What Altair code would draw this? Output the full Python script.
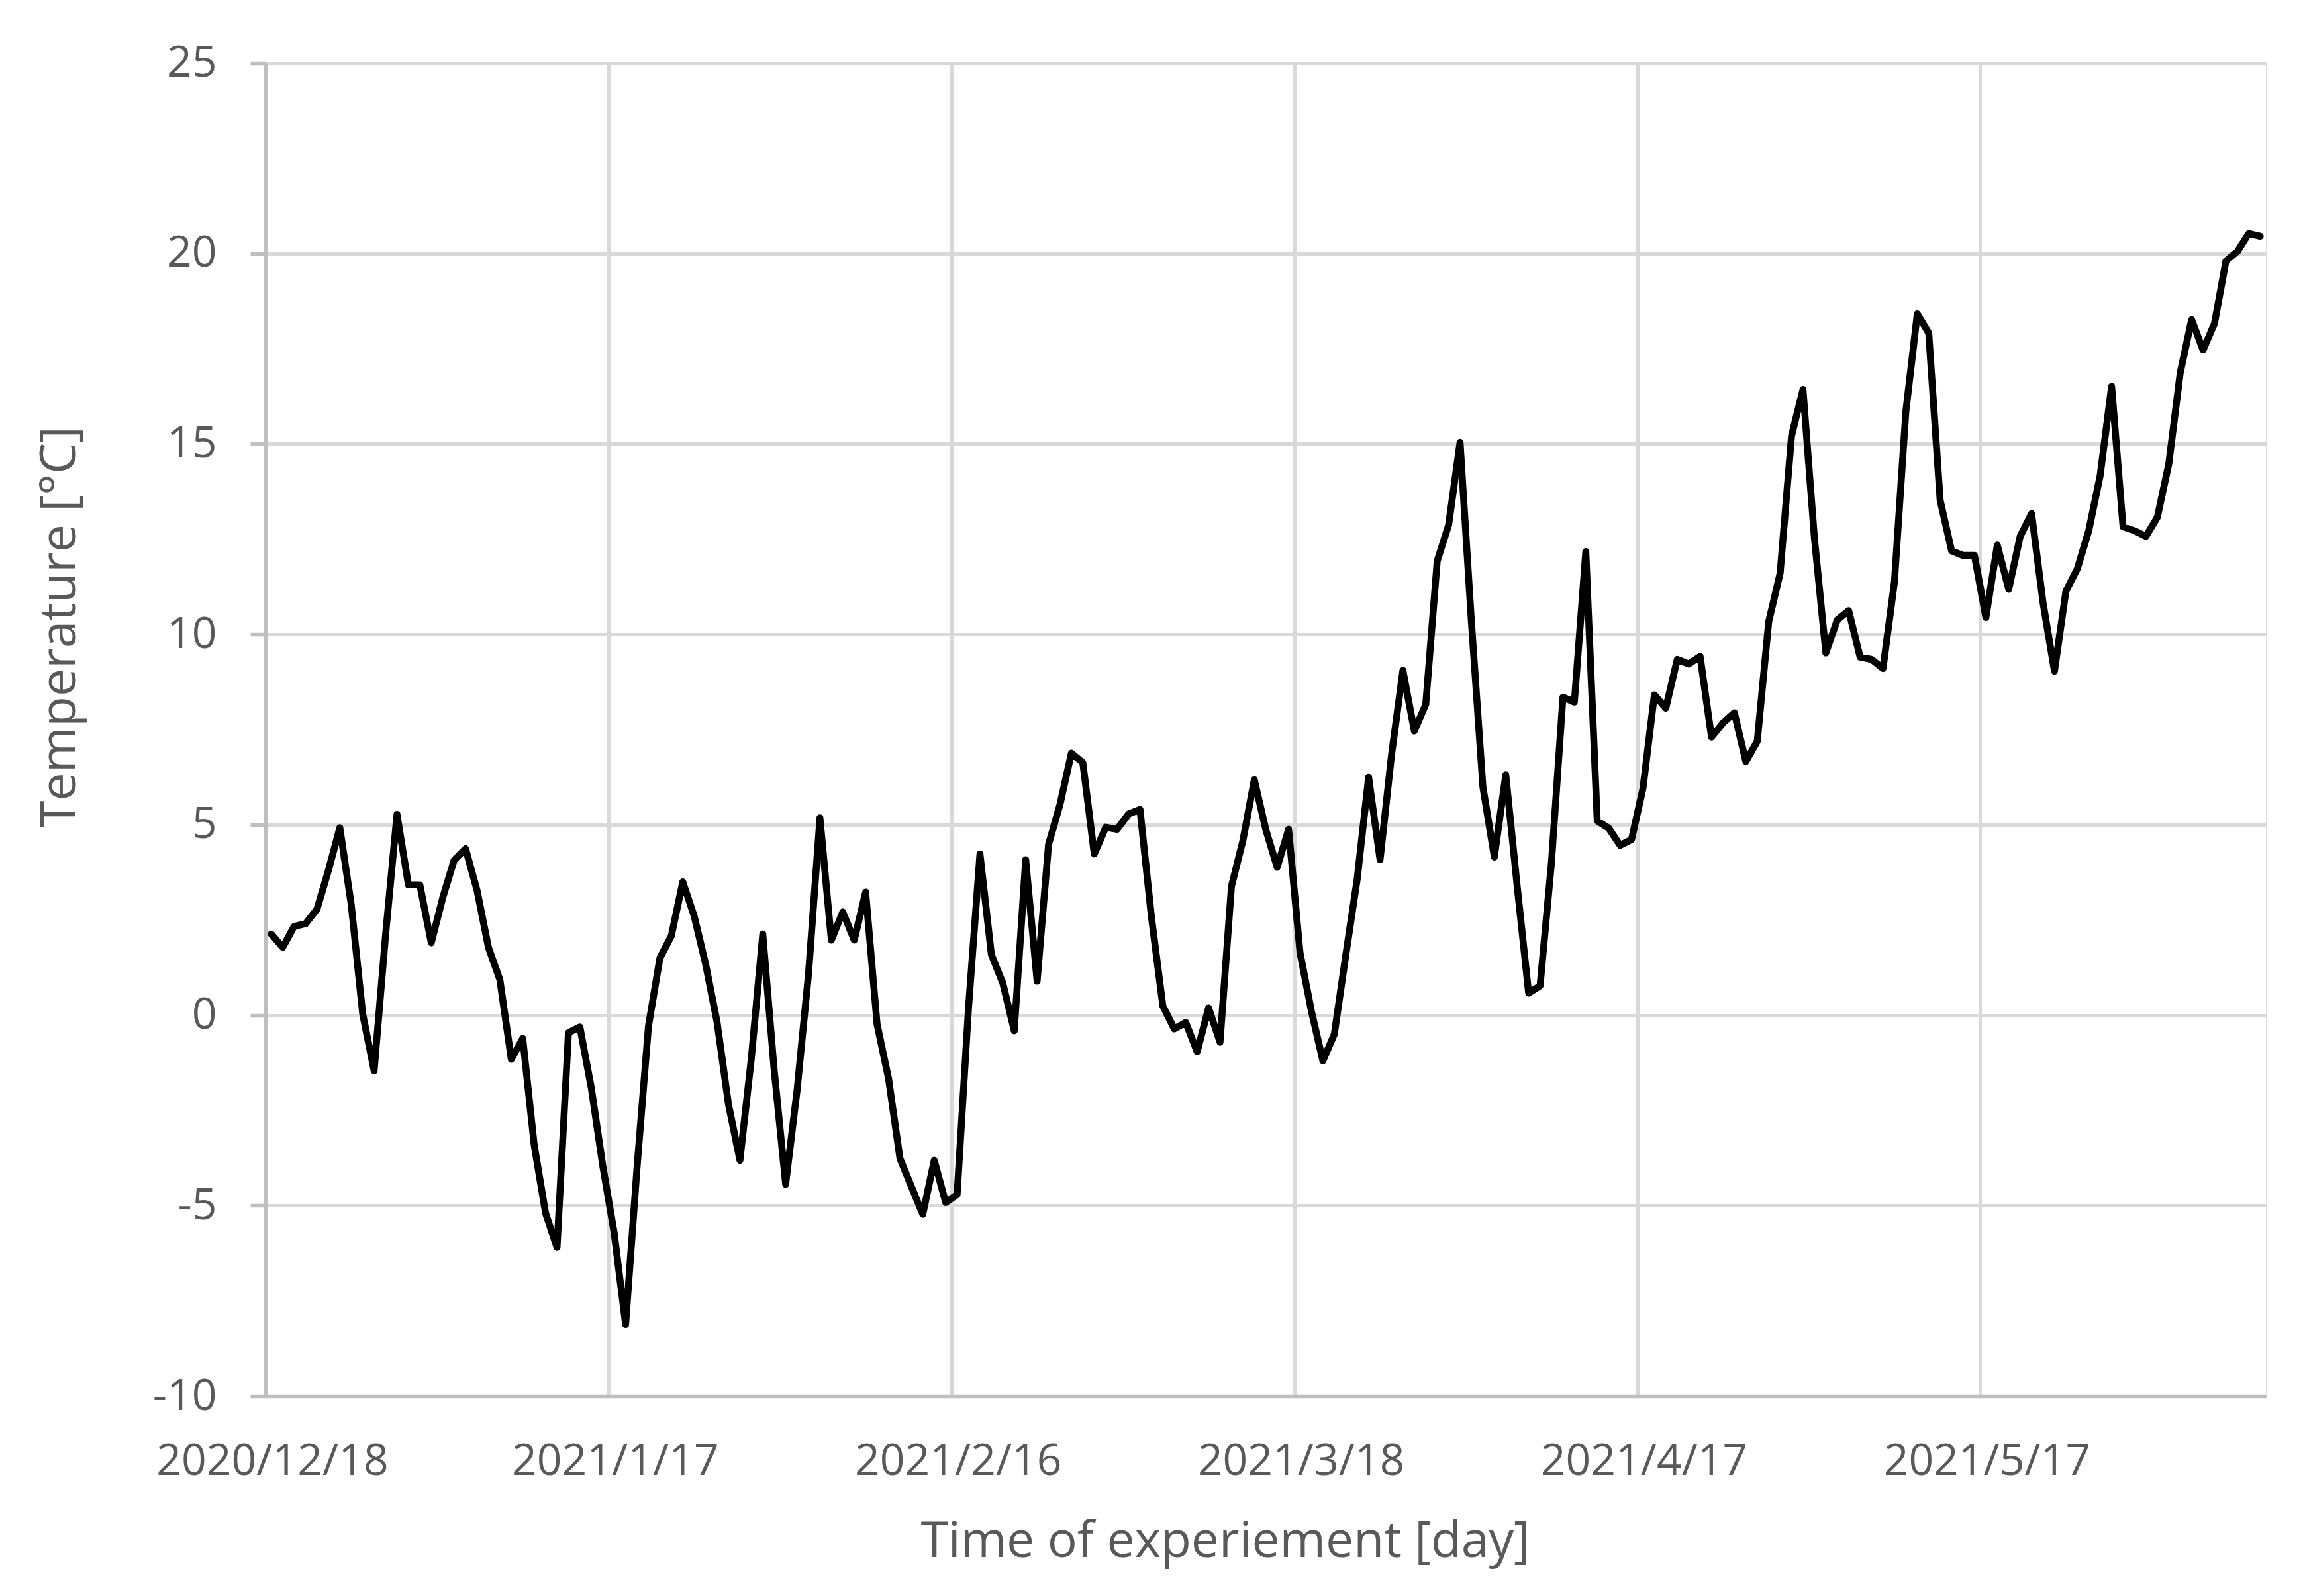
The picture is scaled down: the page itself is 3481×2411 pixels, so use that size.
import altair as alt
import pandas as pd

# Daily mean temperature (°C), one value per day starting 2020/12/18
temps = [
    2.13, 1.78, 2.33, 2.40, 2.78, 3.80, 4.92, 2.90, 0.03, -1.46,
    2.10, 5.27, 3.42, 3.42, 1.90, 3.08, 4.07, 4.37, 3.28, 1.78,
    0.93, -1.16, -0.61, -3.40, -5.20, -6.10, -0.46, -0.31, -1.91, -3.95,
    -5.72, -8.12, -4.00, -0.29, 1.50, 2.08, 3.50, 2.60, 1.34, -0.18,
    -2.34, -3.81, -1.13, 2.13, -1.45, -4.44, -1.97, 1.08, 5.18, 1.97,
    2.71, 1.97, 3.23, -0.24, -1.66, -3.76, -4.50, -5.23, -3.81, -4.92,
    -4.71, 0.20, 4.23, 1.59, 0.84, -0.41, 4.08, 0.89, 4.48, 5.53,
    6.88, 6.63, 4.23, 4.93, 4.88, 5.28, 5.40, 2.58, 0.24, -0.36,
    -0.19, -0.96, 0.19, -0.71, 3.38, 4.58, 6.18, 4.88, 3.88, 4.88,
    1.64, 0.10, -1.20, -0.50, 1.57, 3.57, 6.25, 4.08, 6.82, 9.05,
    7.46, 8.16, 11.92, 12.87, 15.04, 10.30, 5.99, 4.15, 6.31, 3.38,
    0.58, 0.77, 4.02, 8.35, 8.22, 12.17, 5.10, 4.91, 4.46, 4.61,
    5.95, 8.41, 8.06, 9.34, 9.22, 9.42, 7.30, 7.67, 7.94, 6.66,
    7.19, 10.33, 11.60, 15.21, 16.43, 12.53, 9.51, 10.38, 10.62, 9.40,
    9.34, 9.10, 11.37, 15.85, 18.41, 17.91, 13.52, 12.19, 12.07, 12.07,
    10.44, 12.34, 11.18, 12.57, 13.17, 10.83, 9.03, 11.13, 11.72, 12.72,
    14.17, 16.51, 12.82, 12.72, 12.57, 13.07, 14.47, 16.86, 18.26, 17.46,
    18.16, 19.80, 20.05, 20.52, 20.45,
]

tick_days = [0, 30, 60, 90, 120, 150]
tick_labels = ["2020/12/18", "2021/1/17", "2021/2/16", "2021/3/18", "2021/4/17", "2021/5/17"]
y_ticks = [-10, -5, 0, 5, 10, 15, 20, 25]
n_days = len(temps)

# each day's value is drawn in the middle of its day slot
df = pd.DataFrame({"day": [i + 0.5 for i in range(n_days)], "temp": temps})

labels_js = "[" + ",".join(f"'{s}'" for s in tick_labels) + "]"
days_js = "[" + ",".join(str(d) for d in tick_days) + "]"
x_label_expr = f"{labels_js}[indexof({days_js}, datum.value)]"

FONT = "Open Sans"
TXT = "#595959"

line = alt.Chart(df).mark_line(
    color="black", strokeWidth=10.5, strokeJoin="round", strokeCap="round"
).encode(
    x=alt.X(
        "day:Q",
        scale=alt.Scale(domain=[0, n_days], nice=False, zero=False),
        axis=alt.Axis(
            values=tick_days,
            labelExpr=x_label_expr,
            grid=True, gridColor="#d9d9d9", gridWidth=5,
            ticks=False,
            domainColor="#bfbfbf", domainWidth=5.5,
            labelPadding=66, labelFlush=False, labelOffset=10, labelLimit=0,
            labelFont=FONT, labelFontSize=66, labelColor=TXT,
            title="Time of experiement [day]",
            titleFont=FONT, titleFontSize=75, titleFontWeight="normal", titleColor=TXT,
            titleX=1449, titleY=242, titleBaseline="alphabetic", titleAlign="center",
        ),
    ),
    y=alt.Y(
        "temp:Q",
        scale=alt.Scale(domain=[-10, 25], nice=False, zero=False),
        axis=alt.Axis(
            values=y_ticks,
            labelExpr="'' + datum.value",
            grid=True, gridColor="#d9d9d9", gridWidth=5,
            ticks=True, tickSize=23, tickColor="#bfbfbf", tickWidth=5.5,
            domainColor="#bfbfbf", domainWidth=5.5,
            labelPadding=51, labelLimit=0,
            labelFont=FONT, labelFontSize=66, labelColor=TXT,
            title="Temperature [°C]",
            titleFont=FONT, titleFontSize=75, titleFontWeight="normal", titleColor=TXT,
            titleAngle=270, titleX=-288, titleY=852, titleBaseline="alphabetic", titleAlign="center",
        ),
    ),
)

chart = line.properties(
    width=3021,
    height=2014,
    autosize=alt.AutoSizeParams(type="none"),
    padding={"left": 393, "top": 87, "right": 40, "bottom": 280},
).configure_view(strokeWidth=0).configure(background="white")

chart.save("out.html", embed_options={"renderer": "svg", "actions": False})
